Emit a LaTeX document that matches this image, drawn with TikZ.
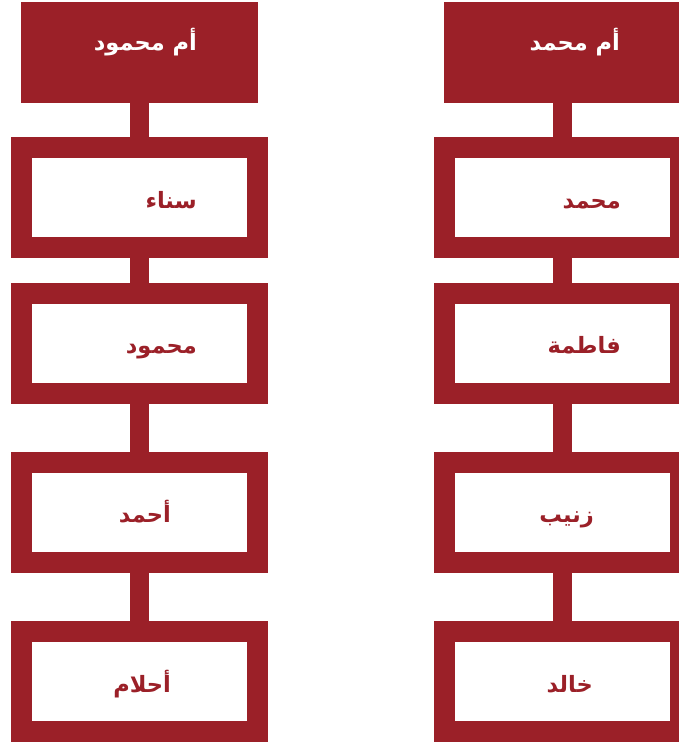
\documentclass[tikz,border=0pt]{standalone}
\usepackage{fontspec}
\TeXXeTstate=1
\newfontfamily\arabicfont[Script=Arabic]{DejaVu Sans}
\definecolor{dred}{RGB}{155,32,40}
\begin{document}
\begin{tikzpicture}[x=1pt,y=-1pt,
  head/.style={fill=dred, minimum width=237pt, minimum height=101pt, inner sep=0pt, outer sep=0pt},
  pbox/.style={draw=dred, line width=21pt, fill=white, minimum width=236pt, minimum height=100pt, inner sep=0pt, outer sep=0pt},
  link/.style={draw=dred, line width=19pt},
  lbl/.style={font=\arabicfont\bfseries\fontsize{22.5}{26}\selectfont, text=dred, anchor=base east, inner sep=0pt},
  hlbl/.style={lbl, text=white}]
\useasboundingbox (0,0) rectangle (679,746);
% left column
\node[head] (h1) at (139.5,52.5) {};
\node[pbox] (a1) at (139.5,197.5) {};
\node[pbox] (a2) at (139.5,343) {};
\node[pbox] (a3) at (139.5,512) {};
\node[pbox] (a4) at (139.5,681.5) {};
% right column
\node[head] (h2) at (562.5,52.5) {};
\node[pbox] (b1) at (562.5,197.5) {};
\node[pbox] (b2) at (562.5,343) {};
\node[pbox] (b3) at (562.5,512) {};
\node[pbox] (b4) at (562.5,681.5) {};
% connectors
\draw[link] (h1.south) -- (a1.north);
\draw[link] (a1.south) -- (a2.north);
\draw[link] (a2.south) -- (a3.north);
\draw[link] (a3.south) -- (a4.north);
\draw[link] (h2.south) -- (b1.north);
\draw[link] (b1.south) -- (b2.north);
\draw[link] (b2.south) -- (b3.north);
\draw[link] (b3.south) -- (b4.north);
% labels
\node[hlbl] (th1) at (197,51) {\beginR أم محمود\endR};
\node[lbl] (ta1) at (197,208) {\beginR سناء\endR};
\node[lbl] (ta2) at (197,353) {\beginR محمود\endR};
\node[lbl] (ta3) at (171,522) {\beginR أحمد\endR};
\node[lbl] (ta4) at (171,692) {\beginR أحلام\endR};
\node[hlbl] (th2) at (620,51) {\beginR أم محمد\endR};
\node[lbl] (tb1) at (621,208) {\beginR محمد\endR};
\node[lbl] (tb2) at (621,353) {\beginR فاطمة\endR};
\node[lbl] (tb3) at (594,522) {\beginR زنيب\endR};
\node[lbl] (tb4) at (593,692) {\beginR خالد\endR};
\end{tikzpicture}
\end{document}
